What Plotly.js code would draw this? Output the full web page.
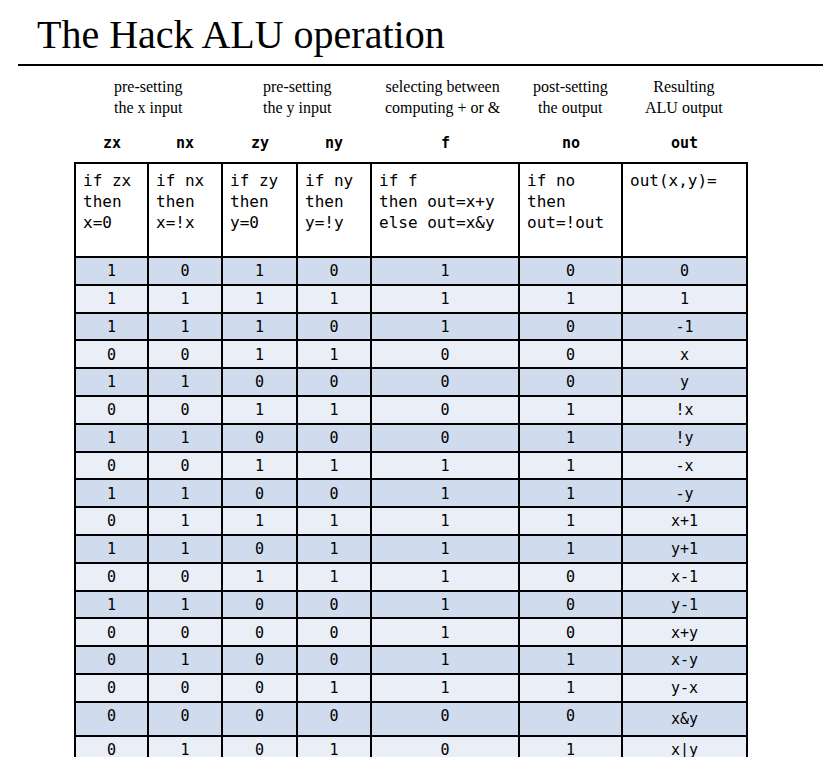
<!DOCTYPE html>
<html>
<head>
<meta charset="utf-8">
<script src="https://cdn.plot.ly/plotly-3.0.1.min.js"></script>
<style>html,body{margin:0;padding:0;background:#fff;}</style>
</head>
<body>
<div id="myDiv" style="width:823px;height:768px;"></div>
<script>
// Tabla de verdad de la ALU Hack
let zx  = [1,1,1,0,1,0,1,0,1,0,1,0,1,0,0,0,0,0];
let nx  = [0,1,1,0,1,0,1,0,1,1,1,0,1,0,1,0,0,1];
let zy  = [1,1,1,1,0,1,0,1,0,1,0,1,0,0,0,0,0,0];
let ny  = [0,1,0,1,0,1,0,1,0,1,1,1,0,0,0,1,0,1];
let f   = [1,1,1,0,0,0,0,1,1,1,1,1,1,1,1,1,0,0];
let no  = [0,1,0,0,0,1,1,1,1,1,1,0,0,0,1,1,0,1];
let out = ['0','1','-1','x','y','!x','!y','-x','-y','x+1','y+1','x-1','y-1','x+y','x-y','y-x','x&y','x|y'];

let colNames = ['zx','nx','zy','ny','f','no','out'];
let colWidths = [73,74,75,74,148,103,125];
let groupLabels = [
    {text: 'pre-setting<br>the x input', x: 148},
    {text: 'pre-setting<br>the y input', x: 297},
    {text: 'selecting between<br>computing + or &', x: 443},
    {text: 'post-setting<br>the output', x: 570},
    {text: 'Resulting<br>ALU output', x: 684}
];
let headerText = [
    'if zx<br>then<br>x=0', 'if nx<br>then<br>x=!x', 'if zy<br>then<br>y=0', 'if ny<br>then<br>y=!y',
    'if f<br>then out=x+y<br>else out=x&y', 'if no<br>then<br>out=!out', '<br><br>out(x,y)='
];

const W = 823, H = 768;
const tblLeft = 75, tblRight = 747, tblTop = 163, tblBottom = 757;

let rowColors = zx.map((_, i) => i % 2 === 0 ? '#d0dcee' : '#e9eef7');
let fmt = a => a.map(String);
let cellValues = [fmt(zx), fmt(nx), fmt(zy), fmt(ny), fmt(f), fmt(no), out.map(s => s.replace('&', '&amp;'))];

let table = {
    type: 'table',
    domain: {x: [tblLeft / W, tblRight / W], y: [1 - tblBottom / H, 1 - tblTop / H]},
    columnwidth: colWidths,
    header: {
        values: headerText.map(s => s.replace(/&/g, '&amp;')),
        align: 'left',
        height: 94,
        fill: {color: '#ffffff'},
        line: {color: '#000000', width: 2},
        font: {family: 'DejaVu Sans Mono, monospace', size: 16, color: '#000000'}
    },
    cells: {
        values: cellValues,
        align: 'center',
        height: 27.8,
        fill: {color: [rowColors]},
        line: {color: '#000000', width: 2},
        font: {family: 'DejaVu Sans Mono, monospace', size: 15, color: '#000000'}
    }
};

let annotations = [{
    text: 'The Hack ALU operation', xref: 'paper', yref: 'paper',
    x: 35 / W, y: 1 - 34 / H, xanchor: 'left', yanchor: 'middle', showarrow: false,
    font: {family: 'Liberation Serif, serif', size: 40, color: '#000000'}
}];
groupLabels.forEach(g => annotations.push({
    text: g.text, xref: 'paper', yref: 'paper',
    x: g.x / W, y: 1 - 98 / H, xanchor: 'center', yanchor: 'middle', showarrow: false,
    font: {family: 'Liberation Serif, serif', size: 16, color: '#000000'}
}));
let xPos = tblLeft;
colNames.forEach((c, i) => {
    let w = colWidths[i];
    annotations.push({
        text: '<b>' + c + '</b>', xref: 'paper', yref: 'paper',
        x: (xPos + w / 2) / W, y: 1 - 143 / H, xanchor: 'center', yanchor: 'middle', showarrow: false,
        font: {family: 'DejaVu Sans Mono, monospace', size: 15, color: '#000000'}
    });
    xPos += w;
});

let layout = {
    width: W, height: H,
    margin: {l: 0, r: 0, t: 0, b: 0},
    paper_bgcolor: '#ffffff',
    annotations: annotations,
    shapes: [{
        type: 'line', xref: 'paper', yref: 'paper',
        x0: 18 / W, x1: 1, y0: 1 - 65 / H, y1: 1 - 65 / H,
        line: {color: '#000000', width: 2}
    }],
    showlegend: false
};

Plotly.newPlot('myDiv', [table], layout, {displayModeBar: false, staticPlot: true});
</script>
</body>
</html>
